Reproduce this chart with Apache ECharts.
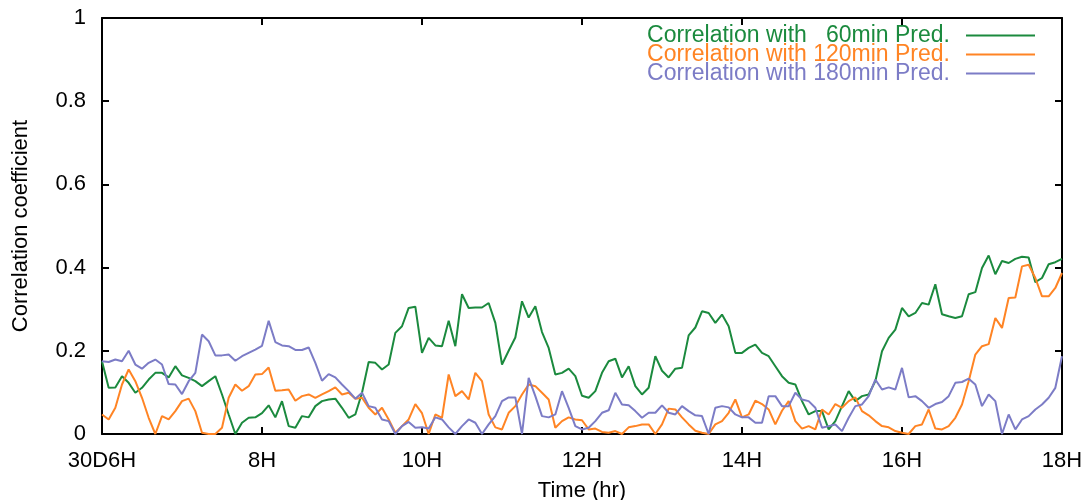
<!DOCTYPE html>
<html>
<head>
<meta charset="utf-8">
<script src="https://cdn.jsdelivr.net/npm/echarts@6/dist/echarts.min.js"></script>
<style>
  html, body { margin: 0; padding: 0; background: #fff; }
  #chart { width: 1092px; height: 500px; }
</style>
</head>
<body>
<div id="chart"></div>
<script>
// Correlation coefficients sampled every 5 minutes from 6H to 18H on day 30
const startHour = 6;
const stepMinutes = 5;

const corr60 = [
  0.175, 0.111, 0.112, 0.139, 0.123, 0.099, 0.111, 0.131, 0.147, 0.147, 0.136, 0.163, 0.141, 0.135, 0.127, 0.115, 0.127, 0.139, 0.095, 0.047, 0.000, 0.027, 0.039, 0.040, 0.050,
  0.069, 0.040, 0.079, 0.019, 0.015, 0.043, 0.040, 0.067, 0.079, 0.083, 0.085, 0.063, 0.039, 0.047, 0.099, 0.173, 0.171, 0.155, 0.167, 0.243, 0.259, 0.303, 0.306, 0.195,
  0.231, 0.213, 0.211, 0.272, 0.211, 0.336, 0.303, 0.304, 0.304, 0.315, 0.267, 0.167, 0.200, 0.232, 0.319, 0.280, 0.307, 0.245, 0.207, 0.143, 0.147, 0.157, 0.139, 0.092,
  0.087, 0.103, 0.147, 0.175, 0.181, 0.136, 0.163, 0.115, 0.095, 0.111, 0.187, 0.152, 0.136, 0.157, 0.159, 0.237, 0.256, 0.295, 0.291, 0.267, 0.287, 0.259, 0.195, 0.195,
  0.207, 0.215, 0.195, 0.187, 0.163, 0.139, 0.123, 0.119, 0.079, 0.047, 0.055, 0.055, 0.011, 0.031, 0.067, 0.103, 0.079, 0.091, 0.095, 0.127, 0.199, 0.231, 0.251, 0.303,
  0.283, 0.291, 0.315, 0.311, 0.360, 0.288, 0.283, 0.279, 0.283, 0.336, 0.341, 0.399, 0.429, 0.384, 0.416, 0.411, 0.421, 0.426, 0.424, 0.365, 0.375, 0.408, 0.413, 0.421
];

const corr120 = [
  0.047, 0.035, 0.063, 0.119, 0.155, 0.127, 0.087, 0.039, 0.000, 0.043, 0.035, 0.055, 0.079, 0.085, 0.055, 0.003, 0.000, 0.000, 0.015, 0.087, 0.119, 0.104, 0.115, 0.143, 0.144,
  0.160, 0.104, 0.105, 0.107, 0.080, 0.091, 0.095, 0.087, 0.095, 0.103, 0.112, 0.095, 0.099, 0.085, 0.087, 0.063, 0.047, 0.063, 0.035, 0.003, 0.019, 0.035, 0.072, 0.050,
  0.000, 0.047, 0.039, 0.143, 0.091, 0.103, 0.083, 0.147, 0.127, 0.047, 0.016, 0.011, 0.051, 0.067, 0.095, 0.119, 0.115, 0.099, 0.083, 0.015, 0.031, 0.040, 0.035, 0.033,
  0.011, 0.013, 0.005, 0.003, 0.007, 0.000, 0.016, 0.019, 0.023, 0.023, 0.000, 0.023, 0.061, 0.059, 0.040, 0.023, 0.008, 0.003, 0.000, 0.023, 0.031, 0.051, 0.083, 0.040,
  0.047, 0.080, 0.072, 0.059, 0.023, 0.056, 0.079, 0.031, 0.013, 0.019, 0.011, 0.059, 0.047, 0.072, 0.063, 0.079, 0.088, 0.055, 0.045, 0.031, 0.019, 0.016, 0.007, 0.003,
  0.000, 0.019, 0.023, 0.059, 0.013, 0.011, 0.019, 0.039, 0.071, 0.127, 0.191, 0.211, 0.216, 0.279, 0.255, 0.327, 0.328, 0.403, 0.407, 0.375, 0.331, 0.331, 0.351, 0.387
];

const corr180 = [
  0.175, 0.173, 0.179, 0.175, 0.200, 0.167, 0.157, 0.171, 0.179, 0.167, 0.120, 0.119, 0.096, 0.127, 0.147, 0.239, 0.223, 0.189, 0.189, 0.191, 0.176, 0.187, 0.195, 0.203, 0.212,
  0.272, 0.221, 0.213, 0.211, 0.202, 0.202, 0.208, 0.171, 0.128, 0.144, 0.136, 0.119, 0.103, 0.085, 0.099, 0.067, 0.063, 0.035, 0.031, 0.000, 0.019, 0.029, 0.015, 0.016,
  0.013, 0.040, 0.035, 0.016, 0.000, 0.019, 0.035, 0.027, 0.000, 0.023, 0.043, 0.079, 0.088, 0.088, 0.000, 0.135, 0.091, 0.043, 0.040, 0.047, 0.103, 0.063, 0.019, 0.011,
  0.015, 0.031, 0.051, 0.057, 0.099, 0.071, 0.069, 0.055, 0.039, 0.051, 0.051, 0.069, 0.051, 0.047, 0.067, 0.055, 0.045, 0.043, 0.000, 0.063, 0.067, 0.064, 0.047, 0.040,
  0.040, 0.027, 0.027, 0.091, 0.091, 0.067, 0.067, 0.099, 0.083, 0.079, 0.063, 0.015, 0.019, 0.023, 0.007, 0.039, 0.067, 0.071, 0.091, 0.131, 0.107, 0.112, 0.107, 0.159,
  0.088, 0.091, 0.079, 0.063, 0.072, 0.077, 0.091, 0.123, 0.125, 0.133, 0.119, 0.067, 0.095, 0.079, 0.000, 0.047, 0.011, 0.035, 0.043, 0.059, 0.071, 0.087, 0.111, 0.187
];

const seriesNames = [
  'Correlation with   60min Pred.',
  'Correlation with 120min Pred.',
  'Correlation with 180min Pred.'
];
const seriesColors = ['#1b8a3e', '#ff8424', '#7c7cc6'];
const xTickLabels = { 6: '30D6H', 8: '8H', 10: '10H', 12: '12H', 14: '14H', 16: '16H', 18: '18H' };

const FONT = '"Liberation Sans", Arial, Helvetica, sans-serif';

function toPairs(values) {
  return values.map((v, i) => [startHour + i * stepMinutes / 60, v]);
}

const chart = echarts.init(document.getElementById('chart'), null, { renderer: 'canvas' });

const axisCommon = {
  axisLine: { show: true, onZero: false, lineStyle: { color: '#000', width: 2 } },
  axisTick: { show: true, inside: true, length: 7, lineStyle: { color: '#000', width: 2 } },
  splitLine: { show: false }
};

chart.setOption({
  animation: false,
  backgroundColor: '#fff',
  textStyle: { fontFamily: FONT },
  grid: { left: 102, right: 30, top: 18, bottom: 66, containLabel: false, outerBoundsMode: 'none' },
  legend: {
    orient: 'vertical',
    right: 52,
    top: 19,
    align: 'right',
    itemGap: -4,
    itemWidth: 69,
    itemHeight: 2,
    icon: 'rect',
    selectedMode: false,
    textStyle: { fontFamily: FONT, fontSize: 23, lineHeight: 19, padding: [0, 11, 0, 0] },
    data: seriesNames.map((n, i) => ({ name: n, textStyle: { color: seriesColors[i] } }))
  },
  xAxis: [
    Object.assign({}, axisCommon, {
      type: 'value',
      position: 'bottom',
      min: 6,
      max: 18,
      interval: 2,
      name: 'Time (hr)',
      nameLocation: 'middle',
      nameGap: 46,
      nameTextStyle: { color: '#000', fontSize: 22, fontFamily: FONT },
      axisLabel: {
        color: '#000', fontSize: 22, margin: 16, fontFamily: FONT,
        formatter: v => xTickLabels[v] || ''
      }
    }),
    Object.assign({}, axisCommon, {
      type: 'value',
      position: 'top',
      min: 6,
      max: 18,
      interval: 2,
      axisLabel: { show: false }
    })
  ],
  yAxis: [
    Object.assign({}, axisCommon, {
      type: 'value',
      position: 'left',
      min: 0,
      max: 1,
      interval: 0.2,
      name: 'Correlation coefficient',
      nameLocation: 'middle',
      nameGap: 70,
      nameTextStyle: { color: '#000', fontSize: 22, fontFamily: FONT },
      axisLabel: { color: '#000', fontSize: 22, margin: 16, fontFamily: FONT }
    }),
    Object.assign({}, axisCommon, {
      type: 'value',
      position: 'right',
      min: 0,
      max: 1,
      interval: 0.2,
      axisLabel: { show: false }
    })
  ],
  series: [corr60, corr120, corr180].map((vals, i) => ({
    name: seriesNames[i],
    type: 'line',
    xAxisIndex: 0,
    yAxisIndex: 0,
    data: toPairs(vals),
    showSymbol: false,
    symbol: 'none',
    color: seriesColors[i],
    lineStyle: { color: seriesColors[i], width: 2 },
    clip: true,
    z: 2 + i
  }))
});
</script>
</body>
</html>
